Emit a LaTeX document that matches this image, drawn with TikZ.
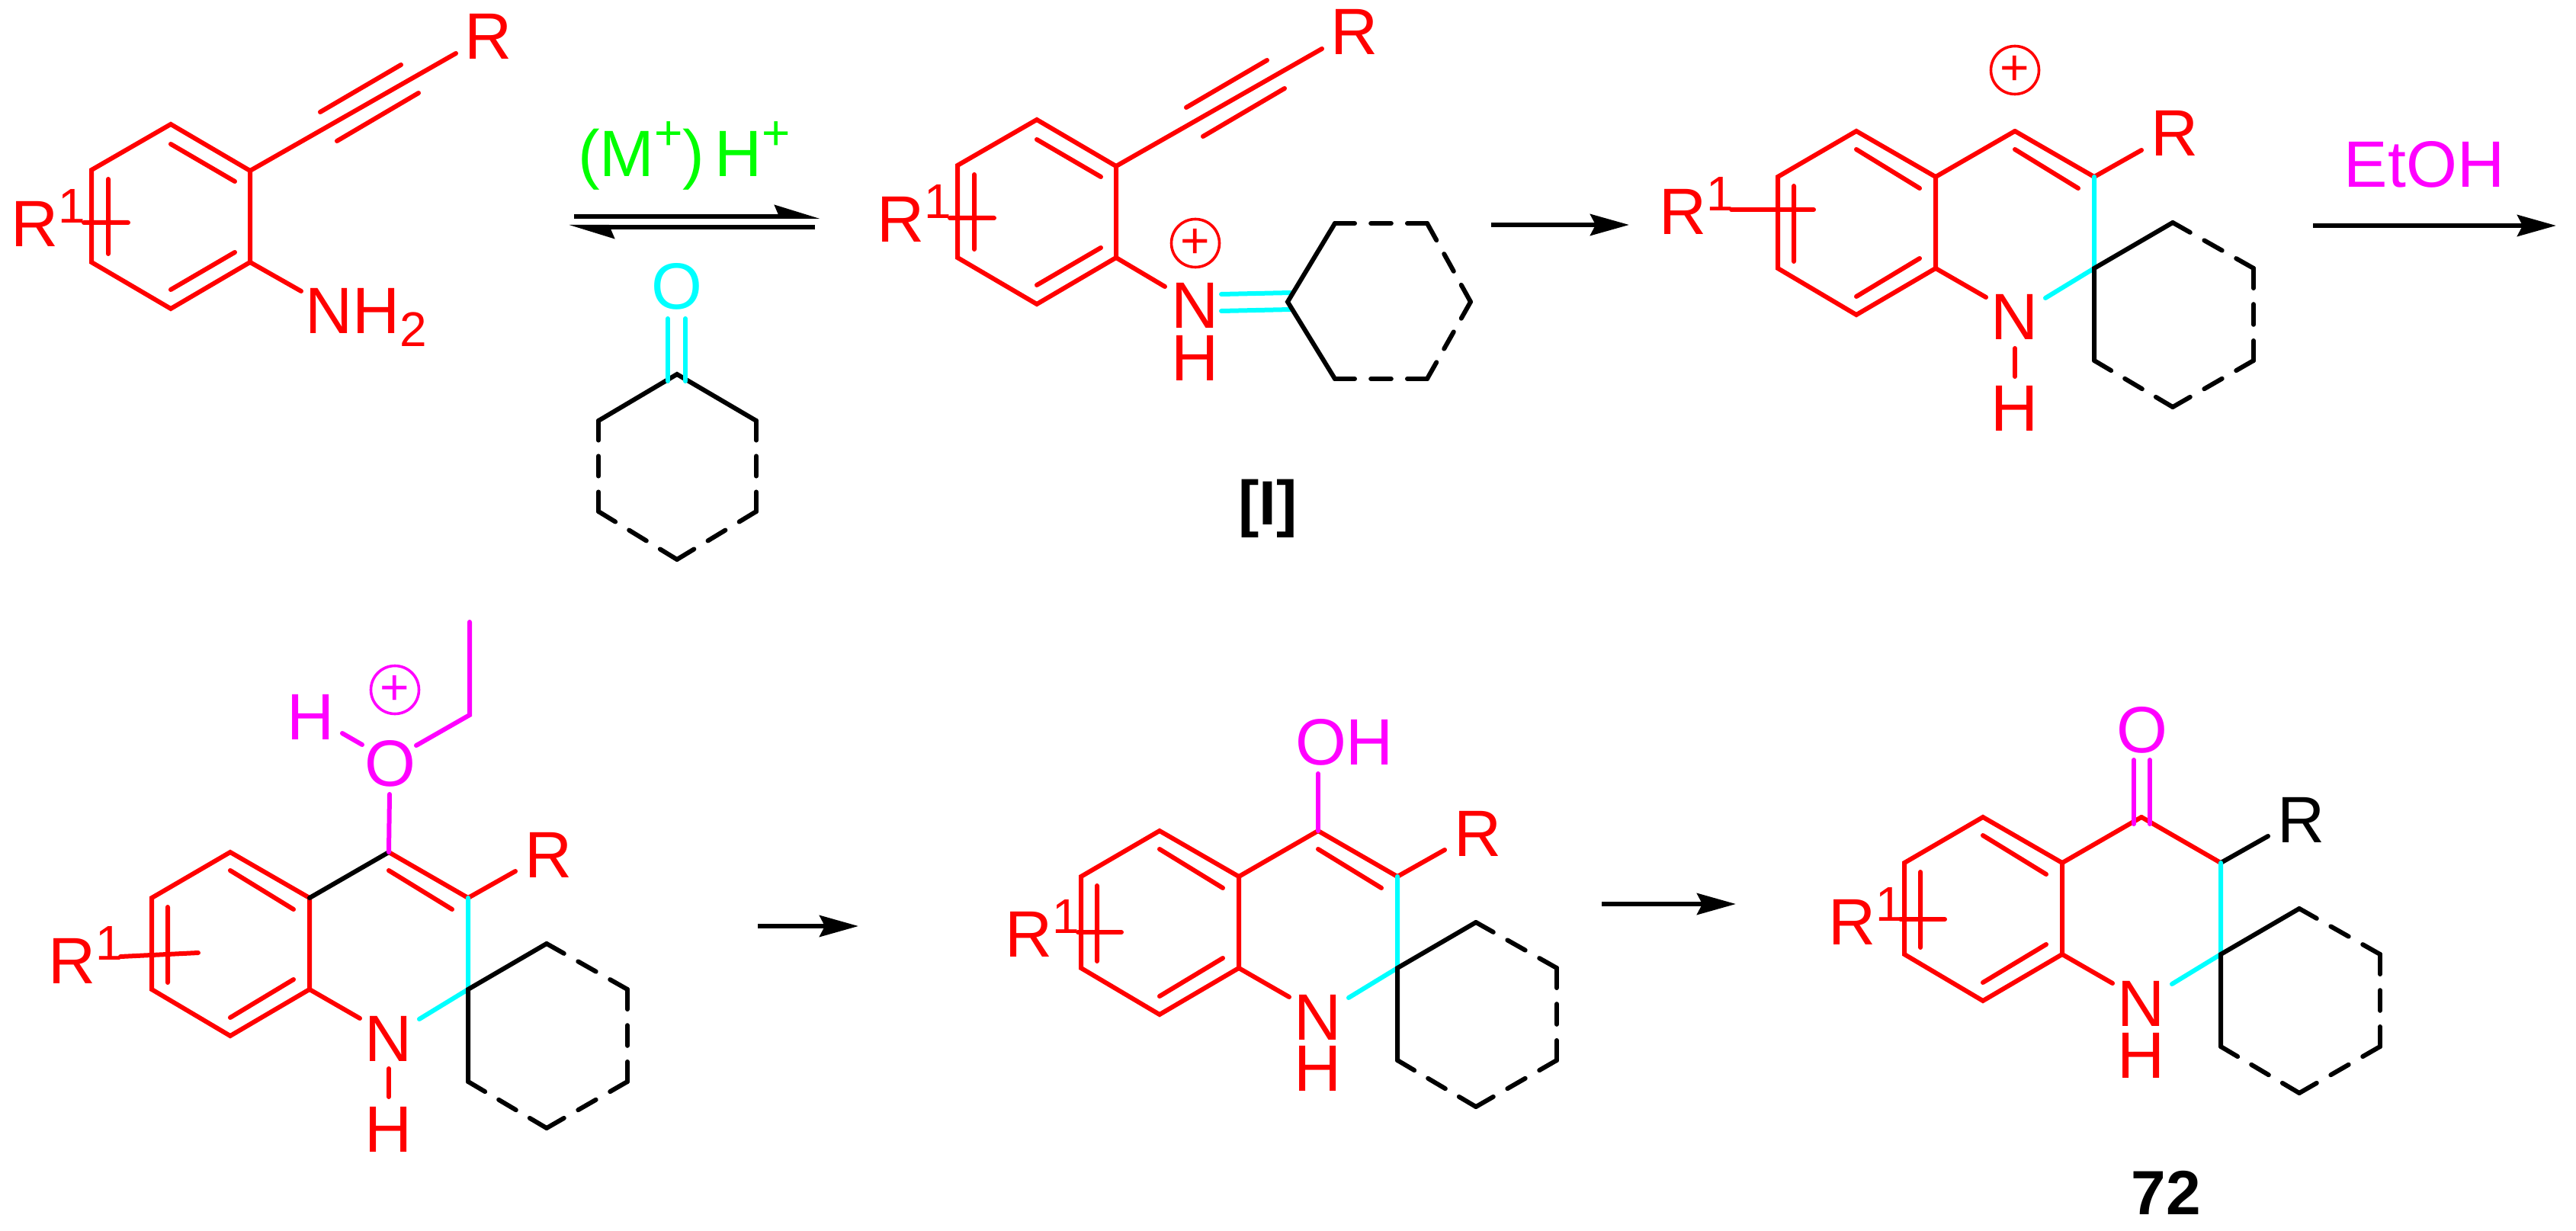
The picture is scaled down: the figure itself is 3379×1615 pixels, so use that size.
\documentclass[tikz,border=0pt]{standalone}
\usepackage{fontspec}
\usepackage{graphicx}
\setmainfont{Liberation Sans}
\usetikzlibrary{calc,arrows.meta}
\definecolor{chemred}{RGB}{255,0,0}
\definecolor{chemcyan}{RGB}{0,255,255}
\definecolor{chemmag}{RGB}{255,0,255}
\definecolor{chemgreen}{RGB}{0,255,0}
\tikzset{
  x=0.5pt,y=-0.5pt,
  bond/.style={line width=3pt,line cap=round,line join=miter},
  redb/.style={bond,draw=chemred},
  cyanb/.style={bond,draw=chemcyan},
  magb/.style={bond,draw=chemmag},
  blackb/.style={bond,draw=black},
  lab/.style={inner sep=0pt,outer sep=0pt,anchor=base,font=\fontsize{43}{43}\selectfont},
  boldlab/.style={lab,font=\fontsize{41}{41}\selectfont\bfseries},
  charge/.style={circle,draw,line width=1.8pt,inner sep=0pt,outer sep=0pt,minimum size=31.5pt,
     font=\fontsize{33}{33}\selectfont},
  arr/.style={line width=3pt,-{Stealth[length=25.5pt,width=14pt,inset=3.5pt]}},
  harp/.style={line width=3pt,-{Stealth[harpoon,length=25pt,width=15pt,inset=3pt]}},
}
\newcommand\Rone{R\raisebox{15.5pt}{\fontsize{32}{32}\selectfont 1}}
\newcommand\dashbond[2]{\draw[blackb] (#1) -- ($(#1)!.215!(#2)$) ($(#1)!.39!(#2)$) -- ($(#1)!.61!(#2)$) ($(#1)!.785!(#2)$) -- (#2);}
% fused ring system: #1 prefix, #2 #3 shift, #4 colour of R, #5 extras
\newcommand\quinoline[5]{%
\begin{scope}[shift={(#2,#3)},name prefix=#1-]
  \coordinate (ul) at (0,0);
  \coordinate (tp) at (103,-60);
  \coordinate (ur) at (207,0);
  \coordinate (lr) at (207,120);
  \coordinate (bt) at (103,181);
  \coordinate (ll) at (0,120);
  \coordinate (c4) at (311,-60);
  \coordinate (c3) at (415,0);
  \coordinate (c2) at (415,120);
  \coordinate (s1) at (518,60);
  \coordinate (s2) at (624,120);
  \coordinate (s3) at (624,241);
  \coordinate (s4) at (518,302);
  \coordinate (s5) at (415,241);
  \coordinate (nl) at (273,158);
  \coordinate (nr) at (351,159);
  \coordinate (rb) at (477,-35);
  \coordinate (i1) at (103,-36);
  \coordinate (i2) at (186,15);
  \coordinate (i3) at (103,157);
  \coordinate (i4) at (186,107);
  \coordinate (i5) at (21,12);
  \coordinate (i6) at (21,111);
  \draw[redb] (ul) -- (tp) -- (ur) -- (lr) -- (bt) -- (ll) -- cycle;
  \draw[redb] (i1) -- (i2) (i3) -- (i4) (i5) -- (i6);
  \draw[redb] (lr) -- (nl);
  \draw[redb] (c4) -- (c3);
  \draw[bond,draw=#4] (c3) -- (rb);
  \draw[cyanb] (c3) -- (c2) (c2) -- (nr);
  \draw[blackb] (s1) -- (c2) -- (s5);
  \dashbond{s1}{s2}\dashbond{s2}{s3}\dashbond{s3}{s4}\dashbond{s4}{s5}
  \node[lab,anchor=base,text=chemred] (n) at (311,214) {N};
  \node[lab,anchor=base west,text=#4] (r) at (489,-27) {R};
  #5
\end{scope}}
\newcommand\aryl[3]{%
\begin{scope}[shift={(#2,#3)},name prefix=#1-]
  \coordinate (ul) at (0,0);
  \coordinate (tp) at (104,-60);
  \coordinate (ur) at (208,1);
  \coordinate (lr) at (208,121);
  \coordinate (bt) at (104,182);
  \coordinate (ll) at (0,121);
  \coordinate (ae) at (478,-153);
  \coordinate (a1) at (300,-76);
  \coordinate (a2) at (406,-138);
  \coordinate (a3) at (322,-38);
  \coordinate (a4) at (429,-101);
  \coordinate (i1) at (104,-34);
  \coordinate (i2) at (188,15);
  \coordinate (i3) at (104,157);
  \coordinate (i4) at (188,108);
  \coordinate (i5) at (22,12);
  \coordinate (i6) at (22,110);
  \coordinate (p1) at (-10,69);
  \coordinate (p2) at (48,69);
  \draw[redb] (ul) -- (tp) -- (ur) -- (lr) -- (bt) -- (ll) -- cycle;
  \draw[redb] (i1) -- (i2) (i3) -- (i4) (i5) -- (i6) (p1) -- (p2);
  \draw[redb] (ur) -- (ae) (a1) -- (a2) (a3) -- (a4);
  \node[lab,anchor=base west,text=chemred] (r) at (489,-145) {R};
  \node[lab,anchor=base west,text=chemred] (rone) at (-106,101) {\Rone};
\end{scope}}
\begin{document}
\begin{tikzpicture}
\useasboundingbox (0,0) rectangle (3379,1615);
% --- molecule 1
\aryl{a}{120}{223}
\coordinate (a-nh) at (395,382);
\draw[redb] (a-lr) -- (a-nh);
\node[lab,anchor=base west,text=chemred] (nh2) at (400,438) {NH\raisebox{-8.5pt}{\fontsize{32}{32}\selectfont 2}};
% --- cyclohexanone
\coordinate (k1) at (888,491);
\coordinate (k2) at (992,552);
\coordinate (k3) at (992,671);
\coordinate (k4) at (888,734);
\coordinate (k5) at (785,671);
\coordinate (k6) at (785,552);
\draw[blackb] (k6) -- (k1) -- (k2);
\dashbond{k2}{k3}\dashbond{k3}{k4}\dashbond{k4}{k5}\dashbond{k5}{k6}
\node[lab,text=chemcyan] (ko) at (888,406) {O};
\coordinate (kd1) at (876,418);
\coordinate (kd2) at (876,500);
\coordinate (kd3) at (899,418);
\coordinate (kd4) at (899,500);
\draw[cyanb] (kd1) -- (kd2) (kd3) -- (kd4);
% --- equilibrium
\node[lab,anchor=base west,text=chemgreen] (cat) at (758,232) {(M\raisebox{17.5pt}{\fontsize{32}{32}\selectfont +})\hspace{6.5pt}H\raisebox{17.5pt}{\fontsize{32}{32}\selectfont +}};
\coordinate (e1) at (753,284);
\coordinate (e2) at (1076,284);
\coordinate (e3) at (1069,298);
\coordinate (e4) at (746,298);
\draw[harp] (e1) -- (e2);
\draw[harp] (e3) -- (e4);
% --- molecule 2
\aryl{b}{1256}{217}
\coordinate (b-nb) at (1528,376);
\draw[redb] (b-lr) -- (b-nb);
\node[lab,text=chemred] (bn) at (1568,431) {N};
\node[lab,text=chemred] (bh) at (1568,500) {H};
\node[charge,draw=chemred,text=chemred] (bc) at (1568,319) {+};
\coordinate (q1) at (1689,396);
\coordinate (q2) at (1751,293);
\coordinate (q3) at (1872,293);
\coordinate (q4) at (1929,396);
\coordinate (q5) at (1872,497);
\coordinate (q6) at (1751,497);
\coordinate (d1) at (1602,386);
\coordinate (d2) at (1693,384);
\coordinate (d3) at (1602,408);
\coordinate (d4) at (1693,406);
\draw[cyanb] (d1) -- (d2) (d3) -- (d4);
\draw[blackb] (q2) -- (q1) -- (q6);
\dashbond{q2}{q3}\dashbond{q3}{q4}\dashbond{q4}{q5}\dashbond{q5}{q6}
\node[boldlab] (lI) at (1663,688) {[I]};
\coordinate (f1) at (1956,295);
\coordinate (f2) at (2137,295);
\draw[arr] (f1) -- (f2);
% --- molecule 3
\quinoline{c}{2332}{232}{chemred}{%
  \draw[redb] (ur) -- (c4);
  \coordinate (i7) at (311,-36);
  \coordinate (i8) at (394,15);
  \draw[redb] (i7) -- (i8);
  \coordinate (p1) at (-61,43);
  \coordinate (p2) at (47,43);
  \draw[redb] (p1) -- (p2);
  \node[lab,anchor=base west,text=chemred] (rone) at (-156,76) {\Rone};
  \node[lab,text=chemred] (h) at (311,334) {H};
  \coordinate (nh1) at (311,225);
  \coordinate (nh2) at (311,262);
  \draw[redb] (nh1) -- (nh2);
  \node[charge,draw=chemred,text=chemred] (plus) at (311,-140) {+};
}
\node[lab,text=chemmag] (etoh) at (3180,246) {EtOH};
\coordinate (g1) at (3034,296);
\coordinate (g2) at (3353,296);
\draw[arr] (g1) -- (g2);
% --- molecule 4
\quinoline{d}{199}{1178}{chemred}{%
  \draw[blackb] (ur) -- (c4);
  \coordinate (i7) at (311,-36);
  \coordinate (i8) at (394,15);
  \draw[redb] (i7) -- (i8);
  \coordinate (p1) at (-41,77);
  \coordinate (p2) at (61,72);
  \draw[redb] (p1) -- (p2);
  \node[lab,anchor=base west,text=chemred] (rone) at (-136,112) {\Rone};
  \node[lab,text=chemred] (h) at (311,333) {H};
  \coordinate (nh1) at (311,224);
  \coordinate (nh2) at (311,261);
  \draw[redb] (nh1) -- (nh2);
  \node[lab,text=chemmag] (o) at (313,-147) {O};
  \node[lab,text=chemmag] (oh) at (209,-208) {H};
  \node[charge,draw=chemmag,text=chemmag] (plus) at (319,-273) {+};
  \coordinate (ob) at (312,-136);
  \coordinate (hb1) at (250,-216);
  \coordinate (hb2) at (276,-201);
  \coordinate (et1) at (347,-200);
  \coordinate (et2) at (417,-240);
  \coordinate (et3) at (417,-362);
  \draw[magb] (c4) -- (ob) (hb1) -- (hb2) (et1) -- (et2) -- (et3);
}
\coordinate (h1) at (994,1215);
\coordinate (h2) at (1126,1215);
\draw[arr] (h1) -- (h2);
% --- molecule 5
\quinoline{e}{1418}{1150}{chemred}{%
  \draw[redb] (ur) -- (c4);
  \coordinate (i7) at (311,-36);
  \coordinate (i8) at (394,15);
  \draw[redb] (i7) -- (i8);
  \coordinate (p1) at (-4,73);
  \coordinate (p2) at (53,73);
  \draw[redb] (p1) -- (p2);
  \node[lab,anchor=base west,text=chemred] (rone) at (-100,105) {\Rone};
  \node[lab,text=chemred] (h) at (311,281) {H};
  \node[lab,anchor=base west,text=chemmag] (oh) at (281,-147) {OH};
  \coordinate (ob) at (311,-135);
  \draw[magb] (c4) -- (ob);
}
\coordinate (j1) at (2101,1186);
\coordinate (j2) at (2277,1186);
\draw[arr] (j1) -- (j2);
% --- molecule 6
\quinoline{f}{2498}{1132}{black}{%
  \draw[redb] (ur) -- (c4);
  \coordinate (p1) at (-5,74);
  \coordinate (p2) at (53,74);
  \draw[redb] (p1) -- (p2);
  \node[lab,anchor=base west,text=chemred] (rone) at (-100,107) {\Rone};
  \node[lab,text=chemred] (h) at (311,282) {H};
  \node[lab,text=chemmag] (o) at (312,-145) {O};
  \coordinate (o1) at (301,-135);
  \coordinate (o2) at (301,-51);
  \coordinate (o3) at (322,-135);
  \coordinate (o4) at (322,-51);
  \draw[magb] (o1) -- (o2) (o3) -- (o4);
}
\node[boldlab] (l72) at (2841,1593) {72};
\end{tikzpicture}
\end{document}
